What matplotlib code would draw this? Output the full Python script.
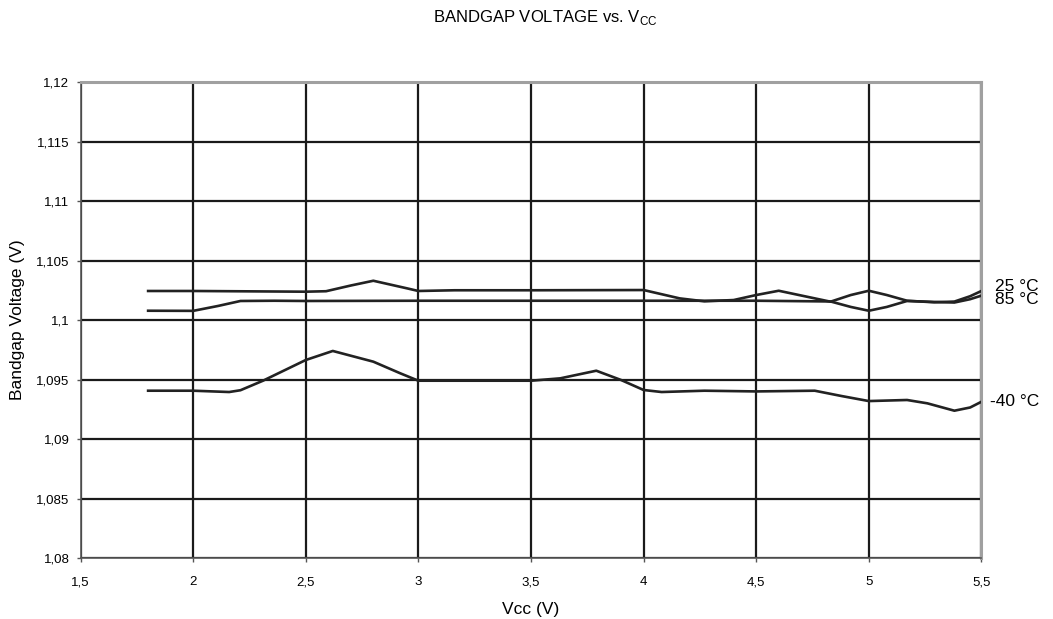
import matplotlib.pyplot as plt
from matplotlib.ticker import FuncFormatter

plt.rcParams['font.family'] = ['Liberation Sans', 'DejaVu Sans']

# values
vcc_25 = [1.80, 2.00, 2.50, 2.59, 2.70, 2.80, 2.95, 3.00, 3.16, 3.50, 4.00, 4.16, 4.27,
          4.40, 4.50, 4.60, 4.74, 4.83, 4.92, 5.00, 5.08, 5.17, 5.29, 5.38, 5.45, 5.50]
v_25 = [1.10244, 1.10244, 1.10238, 1.10242, 1.10290, 1.10330, 1.10266, 1.10244, 1.10250,
        1.10250, 1.10252, 1.10182, 1.10157, 1.10168, 1.10210, 1.10246, 1.10190, 1.10154,
        1.10210, 1.10246, 1.10210, 1.10162, 1.10149, 1.10155, 1.10200, 1.10244]

vcc_85 = [1.80, 2.00, 2.11, 2.21, 2.36, 2.50, 3.00, 3.50, 4.00, 4.50, 4.83, 4.92,
          5.00, 5.08, 5.17, 5.29, 5.38, 5.45, 5.50]
v_85 = [1.10078, 1.10077, 1.10118, 1.10160, 1.10162, 1.10160, 1.10162, 1.10162, 1.10162,
        1.10162, 1.10156, 1.10110, 1.10078, 1.10110, 1.10160, 1.10152, 1.10147, 1.10175, 1.10205]

vcc_m40 = [1.80, 2.00, 2.16, 2.21, 2.31, 2.50, 2.62, 2.80, 2.92, 3.00, 3.19, 3.50, 3.63,
           3.79, 3.90, 4.00, 4.08, 4.27, 4.50, 4.76, 4.88, 5.00, 5.17, 5.26, 5.38, 5.45, 5.50]
v_m40 = [1.09406, 1.09406, 1.09395, 1.09410, 1.09490, 1.09664, 1.09740, 1.09650, 1.09552,
         1.09490, 1.09490, 1.09490, 1.09510, 1.09574, 1.09496, 1.09412, 1.09395, 1.09406,
         1.09400, 1.09406, 1.09361, 1.09319, 1.09328, 1.09300, 1.09238, 1.09265, 1.09313]

x_ticks = [1.5, 2, 2.5, 3, 3.5, 4, 4.5, 5, 5.5]
y_ticks = [1.08, 1.085, 1.09, 1.095, 1.1, 1.105, 1.11, 1.115, 1.12]

fig = plt.figure(figsize=(10.53, 6.19), dpi=100)
ax = fig.add_axes([0.0765, 0.0985, 0.8555, 0.769])

for xs, ys in [(vcc_25, v_25), (vcc_85, v_85), (vcc_m40, v_m40)]:
    ax.plot(xs, ys, color='#222222', lw=1.9, solid_joinstyle='round', zorder=3)

ax.set_xlim(1.5, 5.5)
ax.set_ylim(1.08, 1.12)
ax.set_xticks(x_ticks)
ax.set_yticks(y_ticks)

def comma(v, pos):
    s = ('%.3f' % v).rstrip('0').rstrip('.')
    return s.replace('.', ',')

ax.xaxis.set_major_formatter(FuncFormatter(comma))
ax.yaxis.set_major_formatter(FuncFormatter(comma))
ax.tick_params(labelsize=9.5, length=3, width=1, color='#555555', pad=5)
ax.tick_params(axis='x', pad=10)

ax.grid(True, color='#1a1a1a', lw=1.6, zorder=1)
ax.set_axisbelow(True)
for s in ['left', 'bottom']:
    ax.spines[s].set_color('#555555')
    ax.spines[s].set_linewidth(1.2)
for s in ['top', 'right']:
    ax.spines[s].set_color('#a0a0a0')
    ax.spines[s].set_linewidth(2.2)

ax.set_xlabel('Vcc (V)', fontsize=12.5, labelpad=10)
ax.set_ylabel('Bandgap Voltage (V)', fontsize=12.5, labelpad=8)
fig.text(0.518, 0.972, 'BANDGAP VOLTAGE vs. V$_{\\mathregular{CC}}$', ha='center', va='center',
         fontsize=12)

# right-hand curve labels (25 and 85 sit almost on top of each other)
y_top = (v_25[-1] + v_85[-1]) / 2
ax.annotate('25 °C\n85 °C', xy=(5.5, y_top), xytext=(10, 0), textcoords='offset points',
            va='center', ha='left', fontsize=12.5, linespacing=0.85, annotation_clip=False)
ax.annotate('-40 °C', xy=(5.5, v_m40[-1]), xytext=(6, 0), textcoords='offset points',
            va='center', ha='left', fontsize=12.5, annotation_clip=False)

fig.savefig('out.png', dpi=100)
